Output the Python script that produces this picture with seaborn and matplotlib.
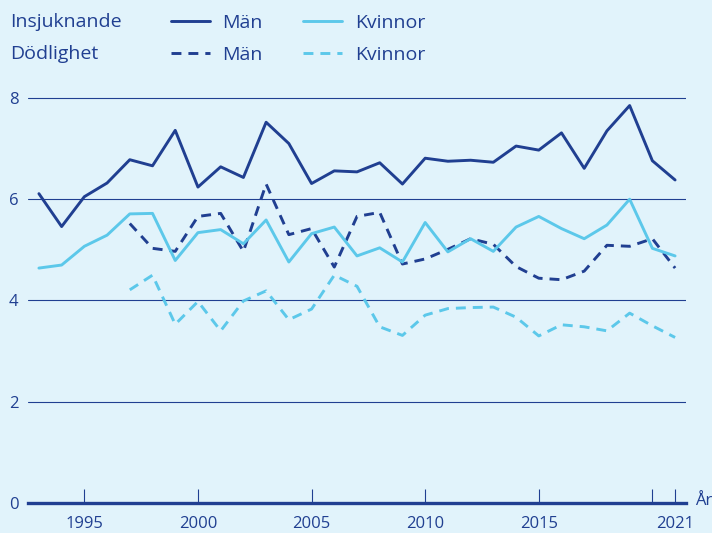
import numpy as np
import pandas as pd
import matplotlib
matplotlib.use('Agg')
import matplotlib.pyplot as plt
import seaborn as sns
from matplotlib.lines import Line2D

years = list(range(1993, 2022))
insj_man = [6.11, 5.46, 6.05, 6.32, 6.78, 6.66, 7.36, 6.24, 6.64, 6.43,
            7.52, 7.10, 6.31, 6.56, 6.54, 6.72, 6.30, 6.81, 6.75, 6.77,
            6.73, 7.05, 6.97, 7.31, 6.61, 7.35, 7.85, 6.76, 6.38]
insj_kvinna = [4.64, 4.70, 5.07, 5.29, 5.71, 5.72, 4.79, 5.34, 5.40, 5.12,
               5.59, 4.76, 5.32, 5.45, 4.88, 5.04, 4.76, 5.54, 4.96, 5.22,
               4.97, 5.45, 5.66, 5.42, 5.22, 5.49, 6.00, 5.03, 4.88]
dod_man = [np.nan, np.nan, np.nan, np.nan, 5.52, 5.03, 4.97, 5.66, 5.72, 4.97,
           6.30, 5.30, 5.42, 4.66, 5.66, 5.74, 4.72, 4.82, 5.01, 5.22,
           5.11, 4.67, 4.44, 4.41, 4.58, 5.09, 5.07, 5.22, 4.64]
dod_kvinna = [np.nan, np.nan, np.nan, np.nan, 4.21, 4.50, 3.53, 3.98, 3.40, 3.99,
              4.19, 3.62, 3.83, 4.50, 4.28, 3.48, 3.31, 3.71, 3.84, 3.86,
              3.87, 3.67, 3.30, 3.52, 3.48, 3.40, 3.75, 3.50, 3.27]

navy = '#203f91'
light = '#5cc8ea'
bg = '#e1f3fb'

rows = []
for measure, sex, vals in [('Insjuknande', 'Män', insj_man),
                           ('Insjuknande', 'Kvinnor', insj_kvinna),
                           ('Dödlighet', 'Män', dod_man),
                           ('Dödlighet', 'Kvinnor', dod_kvinna)]:
    for y, v in zip(years, vals):
        rows.append({'year': y, 'value': v, 'measure': measure, 'sex': sex})
df = pd.DataFrame(rows).dropna()

sns.set_style('white')
plt.rcParams['font.family'] = ['Open Sans', 'DejaVu Sans']

fig = plt.figure(figsize=(7.12, 5.33), dpi=100, facecolor=bg)
ax = fig.add_axes([28 / 712, 1 - 503 / 533, 658 / 712, (503 - 85.3) / 533])
ax.set_facecolor(bg)

ax.yaxis.grid(True, color=navy, linewidth=0.8)
ax.set_axisbelow(True)

dash = (3.4, 2.4)
sns.lineplot(data=df, x='year', y='value', hue='sex', style='measure',
             palette={'Män': navy, 'Kvinnor': light},
             dashes={'Insjuknande': '', 'Dödlighet': dash},
             style_order=['Insjuknande', 'Dödlighet'],
             linewidth=2.1, legend=False, ax=ax)

ax.set_xlim(1992.52, 2021.48)
ax.set_ylim(0, 8.25)
ax.set_xlabel('')
ax.set_ylabel('')
for s in ['top', 'right', 'left']:
    ax.spines[s].set_visible(False)
ax.spines['bottom'].set_color(navy)
ax.spines['bottom'].set_linewidth(2.4)

ax.set_yticks([0, 2, 4, 6, 8])
ax.set_yticklabels(['0', '2', '4', '6', '8'])
ax.tick_params(axis='y', left=False, length=0, pad=7, labelsize=12,
               labelcolor=navy)
ax.set_xticks([1995, 2000, 2005, 2010, 2015, 2020, 2021])
ax.set_xticklabels(['1995', '2000', '2005', '2010', '2015', '', '2021'])
ax.tick_params(axis='x', bottom=True, direction='in', length=10, width=0.8,
               color=navy, pad=9, labelsize=12, labelcolor=navy)
ax.text(1.013, 0.005, 'År', transform=ax.transAxes, ha='left', va='center',
        fontsize=12, color=navy)

# legend
fig.text(10 / 712, 1 - 22 / 533, 'Insjuknande', ha='left', va='center',
         fontsize=14, color=navy)
fig.text(10 / 712, 1 - 54 / 533, 'Dödlighet', ha='left', va='center',
         fontsize=14, color=navy)
handles = [Line2D([], [], color=navy, lw=2.1),
           Line2D([], [], color=navy, lw=2.1, dashes=dash),
           Line2D([], [], color=light, lw=2.1),
           Line2D([], [], color=light, lw=2.1, dashes=dash)]
labels = ['Män', 'Män', 'Kvinnor', 'Kvinnor']
leg = fig.legend(handles, labels, ncol=2, loc='upper left',
                 bbox_to_anchor=(157 / 712, 1.0), frameon=False,
                 fontsize=14, handlelength=2.0, handletextpad=0.65,
                 columnspacing=2.1, labelspacing=0.72, borderpad=0.2)
for t in leg.get_texts():
    t.set_color(navy)

fig.savefig('out.png', dpi=100, facecolor=bg)
